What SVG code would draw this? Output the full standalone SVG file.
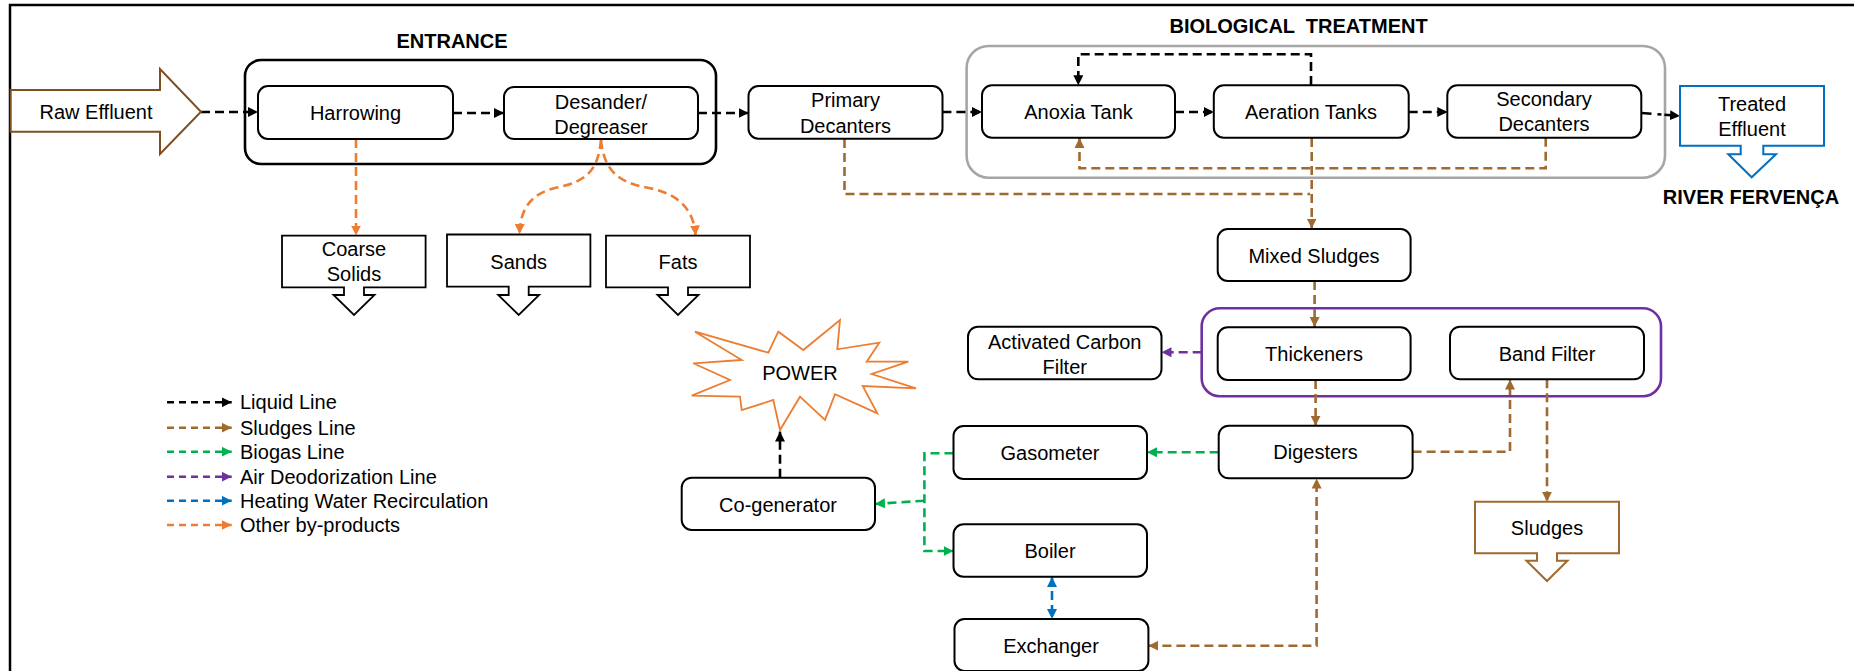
<svg xmlns="http://www.w3.org/2000/svg" width="1854" height="671" viewBox="0 0 1854 671">
<defs>
<style>
text{font-family:"Liberation Sans",Arial,sans-serif;font-size:20px;fill:#000;text-anchor:middle}
.title{font-weight:bold}
.lg{text-anchor:start}
.box{fill:#fff;stroke:#000;stroke-width:2}
.out{fill:#fff;stroke:#000;stroke-width:1.8}
.c{fill:none;stroke-width:2.6;stroke-dasharray:9 5}
.k{stroke:#000}
.b{stroke:#A0692F}
.g{stroke:#00B050}
.p{stroke:#7030A0}
.u{stroke:#0070C0}
.o{stroke:#ED7D31}
</style>
<marker id="mk" viewBox="0 0 10 10" refX="10" refY="5" markerWidth="10" markerHeight="10" markerUnits="userSpaceOnUse" orient="auto-start-reverse"><path d="M0,0 L10,5 L0,10 Z" fill="#000"/></marker>
<marker id="mb" viewBox="0 0 10 10" refX="10" refY="5" markerWidth="10" markerHeight="10" markerUnits="userSpaceOnUse" orient="auto-start-reverse"><path d="M0,0 L10,5 L0,10 Z" fill="#A0692F"/></marker>
<marker id="mg" viewBox="0 0 10 10" refX="10" refY="5" markerWidth="10" markerHeight="10" markerUnits="userSpaceOnUse" orient="auto-start-reverse"><path d="M0,0 L10,5 L0,10 Z" fill="#00B050"/></marker>
<marker id="mp" viewBox="0 0 10 10" refX="10" refY="5" markerWidth="10" markerHeight="10" markerUnits="userSpaceOnUse" orient="auto-start-reverse"><path d="M0,0 L10,5 L0,10 Z" fill="#7030A0"/></marker>
<marker id="mu" viewBox="0 0 10 10" refX="10" refY="5" markerWidth="10" markerHeight="10" markerUnits="userSpaceOnUse" orient="auto-start-reverse"><path d="M0,0 L10,5 L0,10 Z" fill="#0070C0"/></marker>
<marker id="mo" viewBox="0 0 10 10" refX="10" refY="5" markerWidth="10" markerHeight="10" markerUnits="userSpaceOnUse" orient="auto-start-reverse"><path d="M0,0 L10,5 L0,10 Z" fill="#ED7D31"/></marker>
</defs>
<rect width="1854" height="671" fill="#fff"/>
<g id="frame" fill="none" stroke="#000" stroke-width="2.5">
<path d="M10,671 V5 H1854"/>
</g>

<g id="containers">
<g id="entrance-group">
<rect x="245" y="60" width="471" height="104" rx="16" fill="none" stroke="#000" stroke-width="2.6"/>
<text class="title" x="452" y="48">ENTRANCE</text>
</g>
<g id="biological-group">
<rect x="966.6" y="46" width="698.4" height="131.7" rx="22" fill="none" stroke="#A6A6A6" stroke-width="2.6"/>
<text class="title" x="1298.6" y="33" xml:space="preserve">BIOLOGICAL  TREATMENT</text>
</g>
<g id="deodor-group">
<rect x="1201.7" y="308.3" width="459.3" height="88" rx="18" fill="none" stroke="#7030A0" stroke-width="2.6"/>
</g>
</g>

<g id="connectors">
<path class="c k" d="M201,112 H258" marker-end="url(#mk)"/>
<path class="c k" d="M453,113 H504" marker-end="url(#mk)"/>
<path class="c k" d="M698,113 H748.5" marker-end="url(#mk)"/>
<path class="c k" d="M942.4,112 H982" marker-end="url(#mk)"/>
<path class="c k" d="M1175,112 H1213.8" marker-end="url(#mk)"/>
<path class="c k" d="M1408.7,112 H1447.3" marker-end="url(#mk)"/>
<path class="c k" style="stroke-dasharray:10 6 4 3" d="M1641.5,113 L1680,116" marker-end="url(#mk)"/>
<path class="c k" d="M1311,85 V54.3 H1078.3 V85.3" marker-end="url(#mk)"/>
<path class="c k" d="M780,477.7 V431.5" marker-end="url(#mk)"/>

<path class="c b" d="M1545.7,137.7 V168.3 H1079.5 V138" marker-end="url(#mb)"/>
<path class="c b" d="M1311.7,138 V228.5" marker-end="url(#mb)"/>
<path class="c b" d="M844.5,139 V194 H1310"/>
<path class="c b" d="M1314.6,281 V327" marker-end="url(#mb)"/>
<path class="c b" d="M1315.6,380 V425.7" marker-end="url(#mb)"/>
<path class="c b" d="M1412.6,451.7 H1510 V379.5" marker-end="url(#mb)"/>
<path class="c b" d="M1547,379.3 V501.7" marker-end="url(#mb)"/>
<path class="c b" d="M1148.4,645.7 H1316.6 V478.5" marker-start="url(#mb)" marker-end="url(#mb)"/>

<path class="c g" d="M1218.7,452.3 H1147" marker-end="url(#mg)"/>
<path class="c g" d="M953.5,453.3 H924.4 V551 H953.5" marker-end="url(#mg)"/>
<path class="c g" d="M924.4,500.7 L875,504" marker-end="url(#mg)"/>

<path class="c p" d="M1201.7,352.3 H1161.5" marker-end="url(#mp)"/>

<path class="c u" d="M1052,577 V619" marker-start="url(#mu)" marker-end="url(#mu)"/>

<path class="c o" d="M356,139 V235.5" marker-end="url(#mo)"/>
<path class="c o" d="M601,140 C598,172 585,182 555,188 C530,194 520,210 519.6,234" marker-end="url(#mo)"/>
<path class="c o" d="M601,140 C604,172 620,183 649,188 C676,193 694,208 695.6,235.5" marker-end="url(#mo)"/>
</g>

<g id="raw-effluent">
<path d="M10.7,90 H160 V69 L201,111.7 L160,154 V131.7 H10.7 Z" fill="#fff" stroke="#7F4F21" stroke-width="2"/>
<text x="96" y="119">Raw Effluent</text>
</g>
<g id="harrowing">
<rect class="box" x="258" y="86" width="195" height="53" rx="10"/>
<text x="355.5" y="120">Harrowing</text>
</g>
<g id="desander">
<rect class="box" x="504" y="87" width="194" height="52" rx="10"/>
<text x="601" y="109">Desander/</text>
<text x="601" y="134">Degreaser</text>
</g>
<g id="primary-decanters">
<rect class="box" x="748.5" y="86" width="194" height="52.7" rx="10"/>
<text x="845.5" y="107">Primary</text>
<text x="845.5" y="132.7">Decanters</text>
</g>
<g id="anoxia-tank">
<rect class="box" x="982" y="85.3" width="193" height="52.4" rx="10"/>
<text x="1078.5" y="119">Anoxia Tank</text>
</g>
<g id="aeration-tanks">
<rect class="box" x="1213.8" y="85.3" width="194.9" height="52.4" rx="10"/>
<text x="1311" y="119">Aeration Tanks</text>
</g>
<g id="secondary-decanters">
<rect class="box" x="1447.3" y="85.3" width="194" height="52.4" rx="10"/>
<text x="1544" y="106.3">Secondary</text>
<text x="1544" y="131.3">Decanters</text>
</g>
<g id="treated-effluent">
<path d="M1680,86 H1824 V145.7 H1763.3 V154.3 H1776 L1751.7,177.3 L1728.3,154.3 H1740.7 V145.7 H1680 Z" fill="#fff" stroke="#0070C0" stroke-width="2"/>
<text x="1752" y="111">Treated</text>
<text x="1752" y="136">Effluent</text>
<text class="title" x="1751" y="204">RIVER FERVENÇA</text>
</g>
<g id="coarse-solids">
<path class="out" d="M282,235.7 H425.6 V287.3 H364 V295 H374.5 L354,315 L333.5,295 H344 V287.3 H282 Z"/>
<text x="354" y="256">Coarse</text>
<text x="354" y="281">Solids</text>
</g>
<g id="sands">
<path class="out" d="M447,234.5 H590.4 V286.7 H528.7 V295 H539.2 L518.7,315 L498.2,295 H508.7 V286.7 H447 Z"/>
<text x="518.7" y="269">Sands</text>
</g>
<g id="fats">
<path class="out" d="M606,235.7 H750 V287.3 H688 V295 H698.5 L678,315 L657.5,295 H668 V287.3 H606 Z"/>
<text x="678" y="269">Fats</text>
</g>
<g id="mixed-sludges">
<rect class="box" x="1217.7" y="229" width="192.9" height="52" rx="10"/>
<text x="1314" y="262.7">Mixed Sludges</text>
</g>
<g id="activated-carbon-filter">
<rect class="box" x="968" y="326.7" width="193.5" height="52.6" rx="10"/>
<text x="1064.7" y="348.7">Activated Carbon</text>
<text x="1064.7" y="373.7">Filter</text>
</g>
<g id="thickeners">
<rect class="box" x="1217.7" y="327.3" width="192.9" height="52.7" rx="10"/>
<text x="1314" y="361">Thickeners</text>
</g>
<g id="band-filter">
<rect class="box" x="1450" y="326.7" width="194" height="52.6" rx="10"/>
<text x="1547" y="361">Band Filter</text>
</g>
<g id="power">
<path d="M840,320 L837.3,349.3 L879.3,342.7 L866.7,361.7 L908.3,361.7 L871.7,374 L916,388.3 L862.7,386 L877.3,413.3 L835,394.3 L825,420 L800,396.7 L780,430 L773.3,400 L741.7,410 L740,396.7 L691.7,395.7 L730,380 L693.3,363.3 L741.7,360 L695,331.7 L768.3,352.7 L778.3,331.7 L803.3,350 Z" fill="#fff" stroke="#ED7D31" stroke-width="1.8"/>
<text x="800" y="379.7">POWER</text>
</g>
<g id="gasometer">
<rect class="box" x="953.5" y="426" width="193.5" height="53" rx="10"/>
<text x="1050" y="460.3">Gasometer</text>
</g>
<g id="digesters">
<rect class="box" x="1218.7" y="425.7" width="193.9" height="52.6" rx="10"/>
<text x="1315.6" y="459.3">Digesters</text>
</g>
<g id="co-generator">
<rect class="box" x="681.7" y="477.7" width="193.3" height="52.3" rx="10"/>
<text x="778" y="512">Co-generator</text>
</g>
<g id="boiler">
<rect class="box" x="953.5" y="524.3" width="193.5" height="52.4" rx="10"/>
<text x="1050" y="558">Boiler</text>
</g>
<g id="exchanger">
<rect class="box" x="954.5" y="619" width="193.9" height="52" rx="10"/>
<text x="1051" y="653">Exchanger</text>
</g>
<g id="sludges">
<path d="M1475,501.7 H1619 V553.3 H1557 V560.7 H1567.5 L1547,581 L1526.5,560.7 H1537 V553.3 H1475 Z" fill="#fff" stroke="#A0692F" stroke-width="2"/>
<text x="1547" y="535.3">Sludges</text>
</g>

<g id="legend">
<path class="c k" style="stroke-dasharray:7 5;stroke-width:2.4" d="M167,402.3 H231.7" marker-end="url(#mk)"/>
<path class="c b" style="stroke-dasharray:7 5;stroke-width:2.4" d="M167,427.7 H231.7" marker-end="url(#mb)"/>
<path class="c g" style="stroke-dasharray:7 5;stroke-width:2.4" d="M167,451.7 H231.7" marker-end="url(#mg)"/>
<path class="c p" style="stroke-dasharray:7 5;stroke-width:2.4" d="M167,476.7 H231.7" marker-end="url(#mp)"/>
<path class="c u" style="stroke-dasharray:7 5;stroke-width:2.4" d="M167,500.7 H231.7" marker-end="url(#mu)"/>
<path class="c o" style="stroke-dasharray:7 5;stroke-width:2.4" d="M167,525 H231.7" marker-end="url(#mo)"/>
<text class="lg" x="240" y="409.3">Liquid Line</text>
<text class="lg" x="240" y="434.7">Sludges Line</text>
<text class="lg" x="240" y="458.7">Biogas Line</text>
<text class="lg" x="240" y="483.7">Air Deodorization Line</text>
<text class="lg" x="240" y="507.7">Heating Water Recirculation</text>
<text class="lg" x="240" y="532">Other by-products</text>
</g>
</svg>
